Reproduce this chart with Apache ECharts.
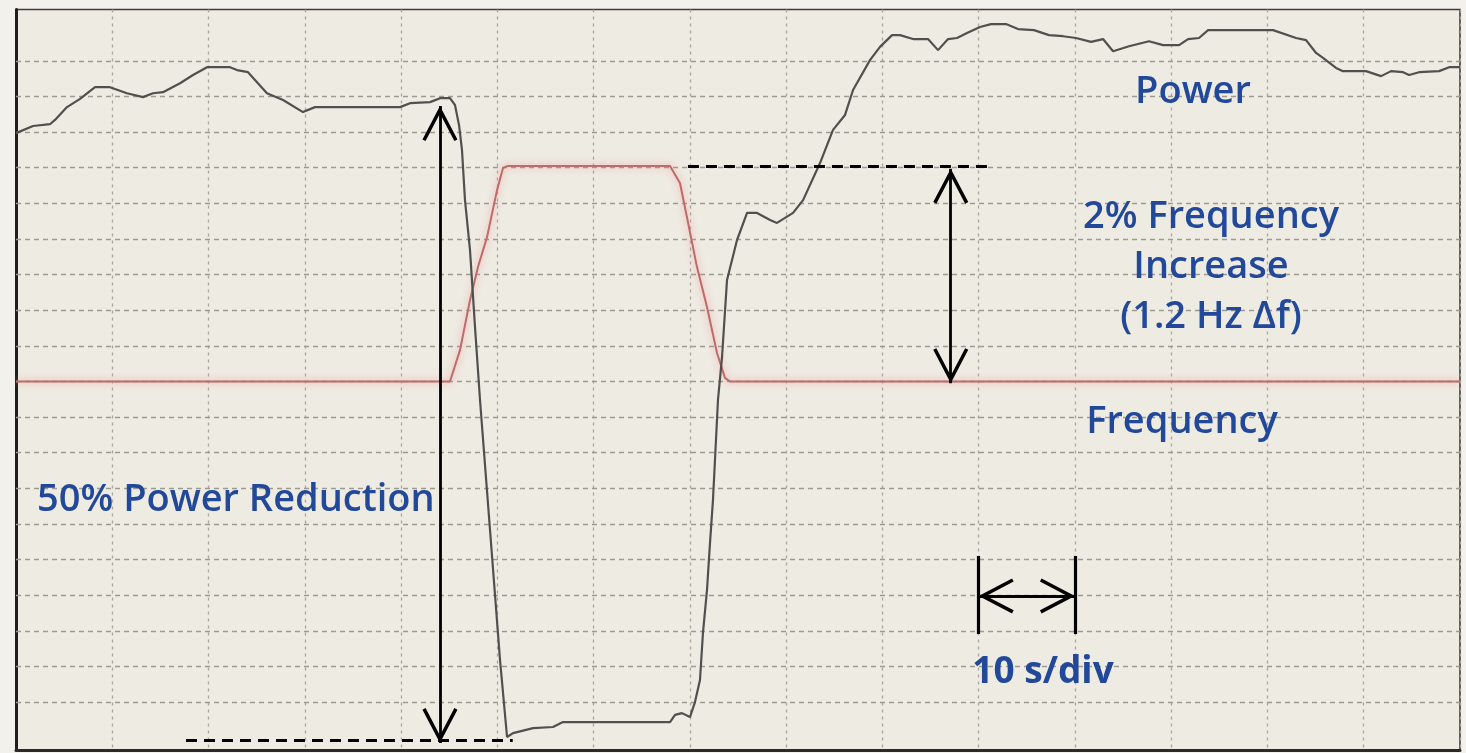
<!DOCTYPE html>
<html>
<head>
<meta charset="utf-8">
<script src="https://cdn.jsdelivr.net/npm/echarts@6/dist/echarts.min.js"></script>
<style>
  html, body { margin: 0; padding: 0; background: #f3f1ec; }
  #chart { width: 1466px; height: 753px; }
</style>
</head>
<body>
<div id="chart"></div>
<script>
// ---- Data (x: seconds, 10 s per division; y: scope divisions) ----
const powerTime = [0,1.77,3.53,4.05,5.30,6.65,8.21,9.76,11.53,13.19,
  14.23,15.27,17.04,18.39,19.84,22.23,22.96,24.10,26.07,27.74,
  29.81,31.06,39.89,40.93,43.01,44.05,45.08,45.60,46.02,46.33,
  46.64,47.16,47.68,48.20,49.24,50.28,51.01,51.63,53.71,55.78,
  56.82,67.94,68.46,69.18,70.01,70.53,71.05,71.36,71.78,72.09,
  72.40,72.92,73.34,73.86,74.90,75.94,76.98,78.33,79.05,80.72,
  81.76,83.52,84.87,86.12,86.95,88.71,89.75,91.00,91.83,93.18,
  94.74,95.78,96.82,97.75,98.79,100.14,101.28,102.84,104.09,105.75,
  107.31,108.76,110.11,111.67,112.92,113.96,115.62,117.70,119.15,120.82,
  121.75,122.89,123.83,130.58,132.97,134.01,135.05,135.77,137.12,137.85,
  140.24,141.80,142.84,144.09,144.71,145.75,147.83,148.87,150];
const powerDiv = [16.97,17.17,17.22,17.34,17.70,17.93,18.26,18.26,18.09,17.98,
  18.09,18.12,18.37,18.60,18.82,18.82,18.74,18.68,18.09,17.90,
  17.56,17.70,17.70,17.81,17.84,17.95,17.95,17.76,17.20,16.49,
  15.09,13.69,11.53,9.48,5.83,2.18,0.02,0.13,0.27,0.30,
  0.44,0.44,0.64,0.69,0.58,1.00,1.62,2.94,4.15,5.46,
  6.67,9.48,10.68,12.85,13.97,14.73,14.73,14.53,14.45,14.73,
  15.09,16.13,17.06,17.48,18.18,19.02,19.39,19.72,19.72,19.61,
  19.61,19.30,19.61,19.64,19.78,19.95,20.03,20.03,19.89,19.86,
  19.72,19.69,19.64,19.53,19.61,19.27,19.41,19.55,19.44,19.44,
  19.61,19.64,19.86,19.86,19.64,19.58,19.22,19.08,18.80,18.71,
  18.71,18.57,18.71,18.68,18.60,18.68,18.71,18.82,18.82];

const freqTime = [0,45.08,46.12,47.16,47.99,48.93,49.97,50.59,51.11,67.94,68.97,69.70,70.74,71.78,72.82,73.65,74.17,150];
const freqDiv  = [10,10,10.88,12.28,13.21,14.05,15.37,15.99,16.05,16.05,15.57,14.61,13.21,12.09,10.80,10.10,10,10];

// horizontal grid divisions drawn on the screen
const gridDivs = [1,2,3,4,5,6,7,8,9,10,11,12,13,14,15,16,17,18,19];
const timeRange = [0, 150];
const timeStep = 10;
const divRange = [-0.345, 20.44];

// annotation values
const powerArrow = { t: 44.04, top: 17.73, bottom: -0.15 };
const freqArrow  = { t: 97.1, top: 15.97, bottom: 9.95 };
const lowDash    = { from: 17.66, to: 51.6, level: -0.06 };
const highDash   = { from: 69.8, to: 101.5, level: 16.05 };
const scaleArrow = { from: 100, to: 110, level: 3.98, barLow: 2.91, barHigh: 5.10 };

const labels = {
  power: 'Power',
  freqInc1: '2% Frequency',
  freqInc2: 'Increase',
  freqInc3: '(1.2 Hz \u0394f)',
  frequency: 'Frequency',
  reduction: '50% Power Reduction',
  scale: '10 s/div'
};

// ---- Chart ----
const chart = echarts.init(document.getElementById('chart'));
const chevron = 'path://M0,0 L18,34 L14.82,35.68 L0,7.68 L-14.82,35.68 L-18,34 Z';
function arrowEnd(coord) {
  return { coord: coord, symbol: chevron, symbolSize: [35, 35], symbolOffset: [0, '50%'] };
}
function plainEnd(coord) {
  return { coord: coord, symbol: 'none' };
}
const solidArrow = { color: '#000', width: 2.8, type: 'solid' };
const dashStyle = { color: '#000', width: 2.8, type: [11, 7] };

const powerData = powerTime.map((t, i) => [t, powerDiv[i]]);
const freqData = freqTime.map((t, i) => [t, freqDiv[i]]);

const blue = '#22489a';
const font = '600 38px "Open Sans", "Noto Sans", sans-serif';
function txt(text, x, y, align, f) {
  return {
    type: 'text', x: x, y: y, z: 100, silent: true,
    style: { text: text, font: f || font, fill: blue, align: align, verticalAlign: 'middle',
             textAlign: align, textVerticalAlign: 'middle' }
  };
}

const option = {
  animation: false,
  backgroundColor: '#f3f1ec',
  grid: {
    left: 16, right: 6, top: 9.5, bottom: 3,
    show: true, backgroundColor: '#eeebe2', borderColor: '#3e3e3c', borderWidth: 1.6
  },
  xAxis: {
    type: 'value', min: timeRange[0], max: timeRange[1], interval: timeStep,
    axisLabel: { show: false }, axisTick: { show: false },
    axisLine: { show: true, onZero: false, lineStyle: { color: '#2a2a28', width: 3 } },
    splitLine: { show: true, lineStyle: { color: '#a9a69e', width: 1.3, type: [3, 4] } }
  },
  yAxis: {
    type: 'value', min: divRange[0], max: divRange[1],
    axisLabel: { show: false }, axisTick: { show: false },
    axisLine: { show: true, onZero: false, lineStyle: { color: '#1e1e1c', width: 3 } },
    splitLine: { show: false }
  },
  series: [
    {
      name: 'Frequency', type: 'line', data: freqData, symbol: 'none', z: 3,
      lineStyle: { color: '#bd6b6b', width: 2, shadowColor: 'rgba(240,140,140,0.8)', shadowBlur: 7 },
      silent: true,
      markLine: {
        silent: true, symbol: 'none', z: 1, label: { show: false },
        lineStyle: { color: '#9d9a92', width: 1.3, type: [5, 4] },
        data: gridDivs.map(v => ({ yAxis: v }))
      }
    },
    {
      name: 'Power', type: 'line', data: powerData, symbol: 'none', z: 4,
      lineStyle: { color: '#50504d', width: 2.2 },
      silent: true,
      markLine: {
        silent: true, symbol: 'none', z: 6, label: { show: false },
        emphasis: { disabled: true },
        data: [
          [Object.assign(plainEnd([lowDash.from, lowDash.level]), { lineStyle: dashStyle }), plainEnd([lowDash.to, lowDash.level])],
          [Object.assign(plainEnd([highDash.from, highDash.level]), { lineStyle: dashStyle }), plainEnd([highDash.to, highDash.level])],
          [Object.assign(arrowEnd([powerArrow.t, powerArrow.top]), { lineStyle: solidArrow }), arrowEnd([powerArrow.t, powerArrow.bottom])],
          [Object.assign(arrowEnd([freqArrow.t, freqArrow.top]), { lineStyle: solidArrow }), arrowEnd([freqArrow.t, freqArrow.bottom])],
          [Object.assign(arrowEnd([scaleArrow.from, scaleArrow.level]), { lineStyle: solidArrow }), arrowEnd([scaleArrow.to, scaleArrow.level])],
          [Object.assign(plainEnd([scaleArrow.from, scaleArrow.barLow]), { lineStyle: { color: '#000', width: 3.2, type: 'solid' } }), plainEnd([scaleArrow.from, scaleArrow.barHigh])],
          [Object.assign(plainEnd([scaleArrow.to, scaleArrow.barLow]), { lineStyle: { color: '#000', width: 3.2, type: 'solid' } }), plainEnd([scaleArrow.to, scaleArrow.barHigh])]
        ]
      }
    }
  ],
  graphic: [
    txt(labels.power, 1193, 92, 'center'),
    txt(labels.freqInc1, 1211, 217, 'center'),
    txt(labels.freqInc2, 1211, 267, 'center'),
    txt(labels.freqInc3, 1211, 317, 'center'),
    txt(labels.frequency, 1182, 422, 'center'),
    txt(labels.reduction, 37, 500, 'left'),
    txt(labels.scale, 1043, 672, 'center', 'bold 37px "Open Sans", "Noto Sans", sans-serif')
  ]
};
chart.setOption(option);
</script>
</body>
</html>
